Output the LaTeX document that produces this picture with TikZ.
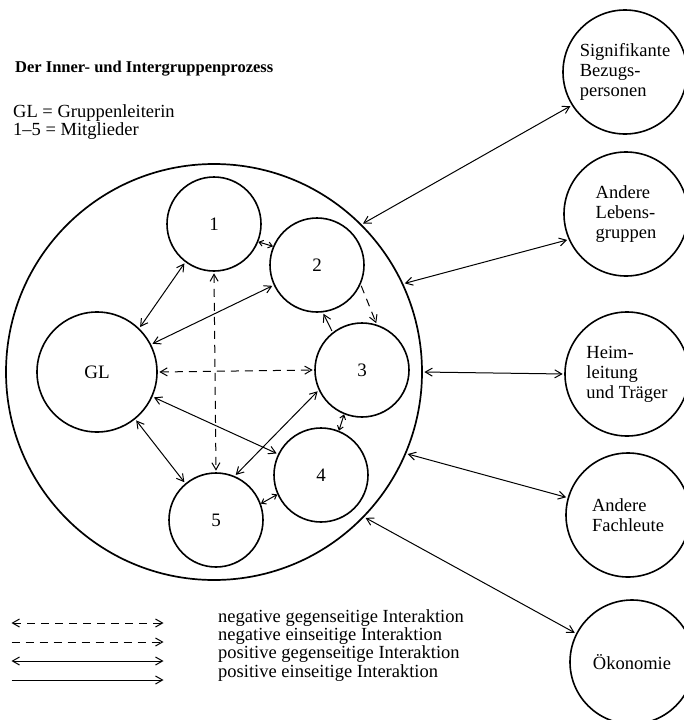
\documentclass[tikz,border=0pt]{standalone}
\usepackage{fontspec}
\setmainfont{Liberation Serif}
\usetikzlibrary{arrows.meta}
\tikzstyle{NodeGroup}=[circle,draw,line width=1.7pt,minimum size=416pt,inner sep=0pt]
\tikzstyle{NodeMember}=[circle,draw,line width=1.6pt,minimum size=94pt,inner sep=0pt,
font=\fontsize{19}{20}\selectfont]
\tikzstyle{NodeLeader}=[NodeMember,minimum size=120pt]
\tikzstyle{NodeOutside}=[NodeMember,minimum size=124pt,align=left,
font=\fontsize{18.5}{20}\selectfont]
\tikzstyle{TextKey}=[anchor=base west,inner sep=0pt,font=\fontsize{18.5}{20}\selectfont]
\tikzstyle{TextTitle}=[TextKey,font=\fontsize{16.5}{18}\selectfont\bfseries]
\tikzstyle{EdgePosBoth}=[line width=1pt,<->,shorten >=1.5pt,shorten <=1.5pt]
\tikzstyle{EdgePosOne}=[line width=1pt,->,shorten >=1.5pt,shorten <=1.5pt]
\tikzstyle{EdgeNegBoth}=[EdgePosBoth,dash pattern=on 8pt off 6pt]
\tikzstyle{EdgeNegOne}=[EdgePosOne,dash pattern=on 8pt off 6pt]
\tikzstyle{EdgeShort}=[line width=1pt,{Straight Barb[length=4pt,width=6pt]}-{Straight Barb[length=4pt,width=6pt]}]

\begin{document}
\begin{tikzpicture}[x=1pt,y=-1pt,>={Straight Barb[length=7pt,width=8pt]}]
        \useasboundingbox(0,0)rectangle(684,720);
        \node[TextTitle](title)at(15,72){Der Inner- und Intergruppenprozess};
        \node[TextKey](key1)at(13,117){GL = Gruppenleiterin};
        \node[TextKey](key2)at(13,135){1--5 = Mitglieder};
        % group and members
        \node[NodeGroup](g)at(214,372){};
        \node[NodeLeader](gl)at(97,372){GL};
        \node[NodeMember](m1)at(214,224){1};
        \node[NodeMember](m2)at(317,265){2};
        \node[NodeMember](m3)at(362,370){3};
        \node[NodeMember](m4)at(321,475){4};
        \node[NodeMember](m5)at(216,520){5};
        % outside groups
        \node[NodeOutside](sig)at(625,72){Signifikante\\Bezugs-\\personen};
        \node[NodeOutside](leb)at(626,214){Andere\\Lebens-\\gruppen};
        \node[NodeOutside](heim)at(627,374){Heim-\\leitung\\und Träger};
        \node[NodeOutside](fach)at(628,515){Andere\\Fachleute};
        \node[NodeOutside](oek)at(632,662){Ökonomie};
        % inner interactions
        \draw[EdgePosBoth](gl.46)--(m1.233);
        \draw[EdgePosBoth](gl.27)--(m2.205);
        \draw[EdgeNegBoth](gl.0)--(m3.180);
        \draw[EdgePosBoth](gl.309)--(m5.130);
        \draw[EdgePosBoth](gl.336)--(m4.154);
        \draw[EdgeShort](m1.338)--(m2.157);
        \draw[EdgeNegBoth](m1.270)--(m5.90);
        \draw[EdgeNegOne](m2.336)--(m3.72);
        \draw[EdgePosOne](m3.128)--(m2.277);
        \draw[EdgeShort](m3.248)--(m4.68);
        \draw[EdgePosBoth](m3.205)--(m5.67);
        \draw[EdgeShort](m5.20)--(m4.204);
        % outer interactions
        \draw[EdgePosBoth](g.45)--(sig.212);
        \draw[EdgePosBoth](g.25)--(leb.204);
        \draw[EdgePosBoth](g.0)--(heim.180);
        \draw[EdgePosBoth](g.337)--(fach.164);
        \draw[EdgePosBoth](g.316)--(oek.153);
        % legend
        \coordinate(la1)at(10,623);\coordinate(lb1)at(165,623);
        \coordinate(la2)at(10,642);\coordinate(lb2)at(165,642);
        \coordinate(la3)at(10,661);\coordinate(lb3)at(165,661);
        \coordinate(la4)at(10,680);\coordinate(lb4)at(165,680);
        \draw[EdgeNegBoth](la1)--(lb1);
        \draw[EdgeNegOne](la2)--(lb2);
        \draw[EdgePosBoth](la3)--(lb3);
        \draw[EdgePosOne](la4)--(lb4);
        \node[TextKey](lt1)at(218,622){negative gegenseitige Interaktion};
        \node[TextKey](lt2)at(218,640){negative einseitige Interaktion};
        \node[TextKey](lt3)at(218,658){positive gegenseitige Interaktion};
        \node[TextKey](lt4)at(218,677){positive einseitige Interaktion};
    \end{tikzpicture}
\end{document}
